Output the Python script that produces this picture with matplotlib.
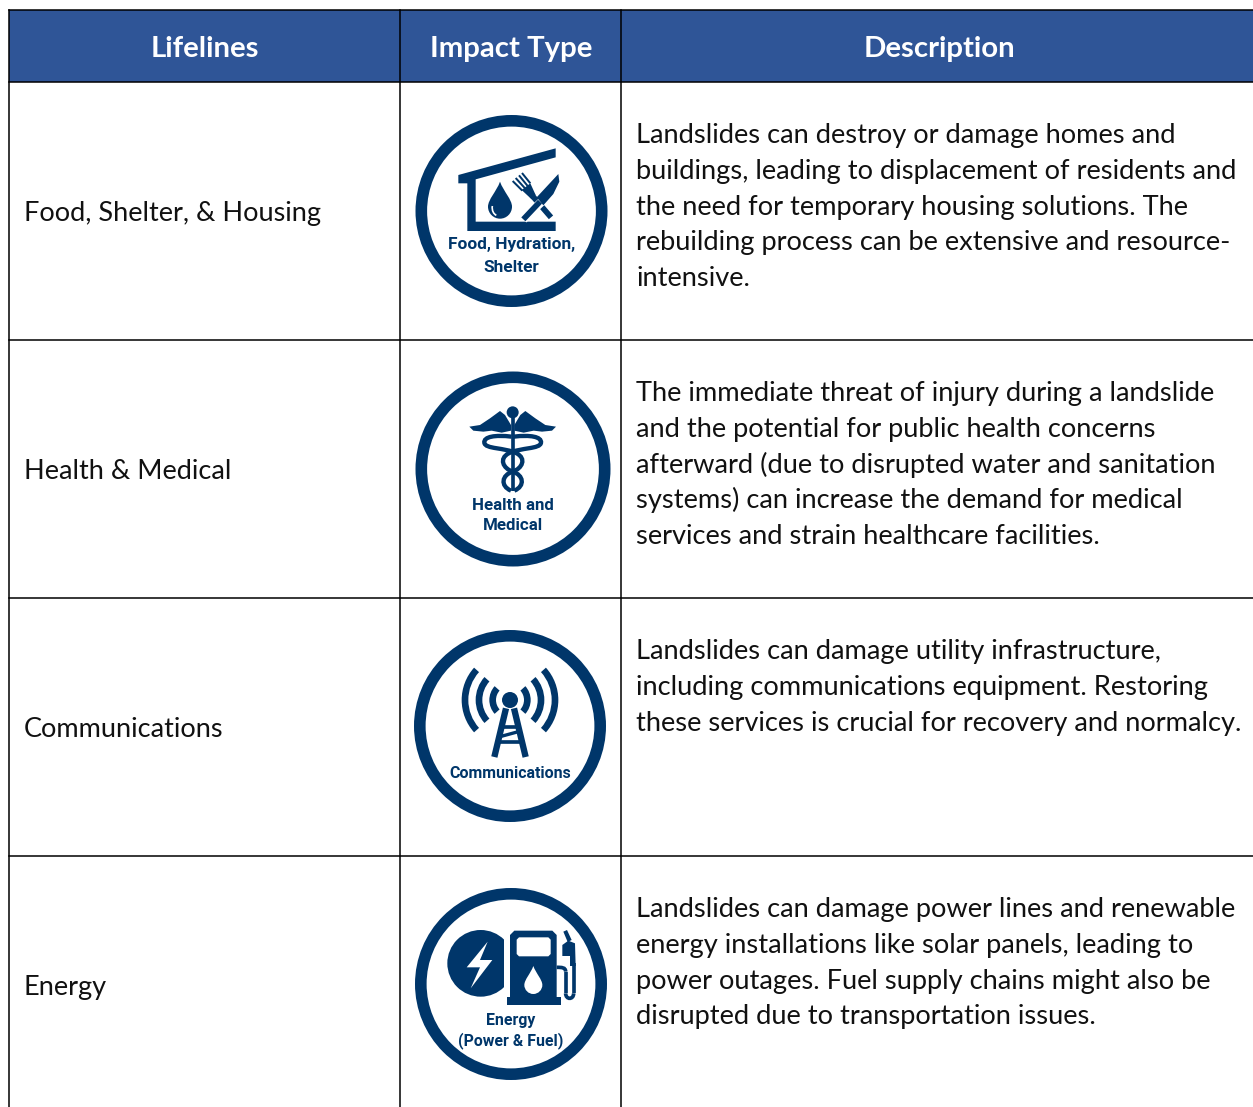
#--- Table of landslide impacts on community lifelines ---
import matplotlib
matplotlib.use("Agg")
import matplotlib.pyplot as plt
from matplotlib.patches import Circle, Polygon, Rectangle, Wedge, PathPatch
from matplotlib.path import Path

# --- Data ---
headers = ["Lifelines", "Impact Type", "Description"]
lifelines = ["Food, Shelter, & Housing", "Health & Medical", "Communications", "Energy"]
captions = [
    ["Food, Hydration,", "Shelter"],
    ["Health and", "Medical"],
    ["Communications"],
    ["Energy", "(Power & Fuel)"],
]
descriptions = [
    ["Landslides can destroy or damage homes and",
     "buildings, leading to displacement of residents and",
     "the need for temporary housing solutions. The",
     "rebuilding process can be extensive and resource-",
     "intensive."],
    ["The immediate threat of injury during a landslide",
     "and the potential for public health concerns",
     "afterward (due to disrupted water and sanitation",
     "systems) can increase the demand for medical",
     "services and strain healthcare facilities."],
    ["Landslides can damage utility infrastructure,",
     "including communications equipment. Restoring",
     "these services is crucial for recovery and normalcy."],
    ["Landslides can damage power lines and renewable",
     "energy installations like solar panels, leading to",
     "power outages. Fuel supply chains might also be",
     "disrupted due to transportation issues."],
]

# --- Layout, in pixels of the picture ---
W, H = 1253, 1107
col_x = [9, 400, 621]
row_y = [10, 82, 340, 598, 856]
header_centers = [205, 511, 939]
ring_centers = [(511.5, 211), (513, 469), (510, 726), (511, 984)]
ring_radius = [96, 97.5, 96, 96]
caption_y = [[244, 268], [506, 526], [773], [1021, 1041]]
caption_size = [12.4, 12.2, 11.5, 11.4]
# icon drawings were measured on 3x crops with these corners
origins = [(405, 100), (405, 360), (405, 620), (405, 880)]

HEADER = "#2F5597"
NAVY = "#00366A"
TEXT = "#111111"
BODY_FONT = ["Lato", "DejaVu Sans"]
ICON_FONT = ["Roboto", "Liberation Sans"]

fig = plt.figure(figsize=(W / 100, H / 100), dpi=100)
ax = fig.add_axes([0, 0, 1, 1])
ax.set_xlim(0, W)
ax.set_ylim(H, 0)
ax.axis("off")


# -- helpers for icons --
def px(pts, o):
    return [(o[0] + x / 3, o[1] + y / 3) for x, y in pts]


def poly(pts, o, color=NAVY, z=5):
    ax.add_patch(Polygon(px(pts, o), closed=True, fc=color, ec="none", zorder=z))


def stroke(pts, o, w, color=NAVY, z=5):
    xs, ys = zip(*px(pts, o))
    ax.plot(xs, ys, color=color, lw=w / 3 * 0.72, solid_capstyle="butt", zorder=z)


def bezier(start, segs, o, w, color=NAVY, z=5):
    verts = [start]
    codes = [Path.MOVETO]
    for s in segs:
        verts += list(s)
        codes += [Path.CURVE4] * 3
    ax.add_patch(PathPatch(Path(px(verts, o), codes), fc="none", ec=color,
                           lw=w / 3 * 0.72, capstyle="butt", zorder=z))


def drop(cx, cy, r, top, o, color=NAVY, z=5):
    verts = [(cx, top),
             (cx + 0.3 * r, top + 0.4 * (cy - top)), (cx + r, cy - 0.6 * r), (cx + r, cy),
             (cx + r, cy + 0.55 * r), (cx + 0.55 * r, cy + r), (cx, cy + r),
             (cx - 0.55 * r, cy + r), (cx - r, cy + 0.55 * r), (cx - r, cy),
             (cx - r, cy - 0.6 * r), (cx - 0.3 * r, top + 0.4 * (cy - top)), (cx, top)]
    codes = [Path.MOVETO] + [Path.CURVE4] * 12
    ax.add_patch(PathPatch(Path(px(verts, o), codes), fc=color, ec="none", zorder=z))


def food_icon(o):
    poly([(160, 225), (452, 145), (452, 172), (212, 238), (212, 365), (452, 365),
          (452, 393), (187, 393), (187, 250), (160, 250)], o)
    drop(285, 320, 36, 245, o)
    bezier((262, 318), [[(260, 332), (266, 342), (274, 346)]], o, 5, "white", 6)
    # fork
    for tip, base in [((323, 243), (352, 272)), ((332, 234), (360, 265)),
                      ((342, 226), (368, 258)), ((351, 219), (376, 250))]:
        stroke([tip, base], o, 6)
    poly([(350, 270), (376, 250), (392, 285), (380, 298)], o)
    stroke([(380, 285), (438, 352)], o, 17)
    # knife goes over the fork
    stroke([(410, 305), (355, 358)], o, 26, "white", 6)
    poly([(460, 222), (463, 245), (445, 282), (415, 316), (395, 292)], o, z=7)
    stroke([(405, 305), (355, 358)], o, 17, z=7)


def health_icon(o):
    stroke([(323, 160), (323, 392)], o, 11)
    ax.add_patch(Circle(px([(323, 157)], o)[0], 18 / 3, fc=NAVY, ec="none", zorder=5))
    wing = [(193, 200), (225, 195), (255, 175), (285, 153), (300, 165), (318, 195),
            (318, 212), (290, 218), (260, 212), (235, 215), (205, 212)]
    poly(wing, o)
    poly([(646 - x, y) for x, y in wing], o)
    for flip in [False, True]:
        m = (lambda p: (646 - p[0], p[1])) if flip else (lambda p: p)
        start = m((320, 230))
        segs = [[(270, 224), (236, 230), (238, 248)],
                [(240, 268), (300, 262), (335, 280)],
                [(365, 296), (352, 325), (323, 335)],
                [(290, 345), (285, 378), (318, 392)]]
        bezier(start, [[m(p) for p in s] for s in segs], o, 13)


def comm_icon(o):
    c = px([(315, 240)], o)[0]
    for r in [52, 93, 135]:
        outer = (r + 10) / 3
        width = 20 / 3
        ax.add_patch(Wedge(c, outer, -42, 42, width=width, fc=NAVY, ec="none", zorder=5))
        ax.add_patch(Wedge(c, outer, 138, 222, width=width, fc=NAVY, ec="none", zorder=5))
    ax.add_patch(Circle(c, 24 / 3, fc=NAVY, ec="none", zorder=5))
    stroke([(303, 265), (268, 411)], o, 19)
    stroke([(327, 265), (362, 411)], o, 19)
    stroke([(292, 322), (338, 322)], o, 11)
    stroke([(285, 350), (340, 335)], o, 10)
    stroke([(280, 367), (350, 367)], o, 11)


def energy_icon(o):
    circ = Circle(px([(227, 250)], o)[0], 100 / 3, fc=NAVY, ec="none", zorder=5)
    ax.add_patch(circ)
    clip = Rectangle((o[0], o[1]), 298 / 3, 215, transform=ax.transData)
    circ.set_clip_path(clip)
    poly([(248, 185), (185, 262), (225, 262), (197, 325), (262, 240), (225, 240)], o, "white", 6)
    # pump body, base, window and drop
    poly([(328, 152), (442, 152), (455, 165), (455, 355), (315, 355), (315, 165)], o)
    poly([(305, 350), (467, 350), (467, 375), (305, 375)], o)
    poly([(342, 172), (430, 172), (437, 179), (437, 222), (430, 229), (342, 229),
          (335, 222), (335, 179)], o, "white", 6)
    drop(385, 315, 27, 258, o, "white", 6)
    # hose and nozzle
    bezier((455, 262), [[(470, 262), (482, 262), (482, 275)]], o, 11)
    stroke([(482, 275), (482, 340)], o, 11)
    bezier((482, 340), [[(482, 360), (506, 360), (506, 340)]], o, 11)
    stroke([(506, 340), (506, 250)], o, 11)
    poly([(472, 195), (490, 182), (510, 190), (512, 258), (495, 258), (495, 228), (472, 228)], o)
    poly([(475, 155), (486, 150), (500, 180), (488, 186)], o)


icons = [food_icon, health_icon, comm_icon, energy_icon]

# --- Header and grid ---
ax.add_patch(Rectangle((col_x[0], row_y[0]), W - col_x[0], row_y[1] - row_y[0],
                       fc=HEADER, ec="none", zorder=1))
for y in row_y:
    ax.plot([col_x[0], W], [y, y], color="black", lw=1.1, zorder=2)
for x in col_x:
    ax.plot([x, x], [row_y[0], H], color="black", lw=1.1, zorder=2)

for label, x in zip(headers, header_centers):
    ax.text(x, 49, label, color="white", fontsize=21.2, fontweight="bold",
            family=BODY_FONT, ha="center", va="center", zorder=3)

# --- Rows ---
for i, name in enumerate(lifelines):
    top = row_y[i + 1]
    ax.text(24, top + 139, name, color=TEXT, fontsize=19.5, family=BODY_FONT,
            ha="left", va="baseline", zorder=3)
    for j, line in enumerate(descriptions[i]):
        ax.text(636, top + 61 + j * 35.8, line, color=TEXT, fontsize=19.65,
                family=BODY_FONT, ha="left", va="baseline", zorder=3)
    ax.add_patch(Circle(ring_centers[i], ring_radius[i] - 5.8, fc="white", ec=NAVY,
                        lw=11.6 * 0.72, zorder=4))
    icons[i](origins[i])
    for line, y in zip(captions[i], caption_y[i]):
        ax.text(ring_centers[i][0], y, line, color=NAVY, fontsize=caption_size[i],
                fontweight="bold", family=ICON_FONT, ha="center", va="center", zorder=6)

fig.savefig("out.png", dpi=100)
